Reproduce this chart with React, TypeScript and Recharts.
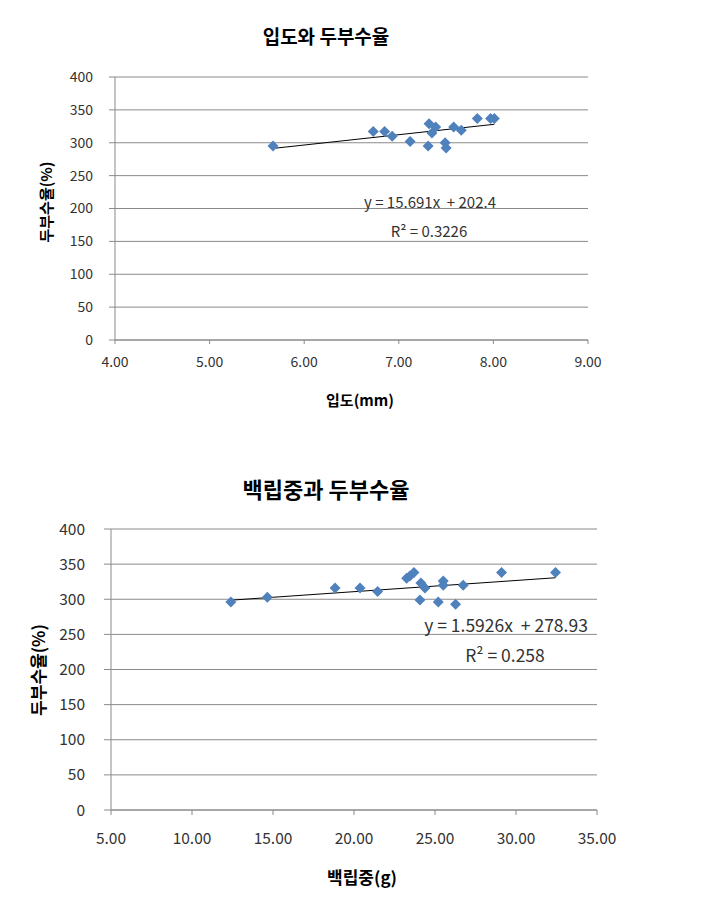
import React from "react";
import {
  ScatterChart,
  Scatter,
  XAxis,
  YAxis,
  CartesianGrid,
  ReferenceLine,
} from "recharts";

// 입도(mm) vs 두부수율(%)
const grainSize = [5.67, 6.73, 6.85, 6.93, 7.12, 7.31, 7.32, 7.35, 7.39, 7.49, 7.5, 7.58, 7.66, 7.83, 7.97, 8.01];
const yield1 = [295, 317, 317, 310, 302, 295, 329, 315, 324, 300, 292, 324, 319, 337, 337, 337];

// 백립중(g) vs 두부수율(%)
const weight100 = [12.4, 14.65, 18.83, 20.37, 21.46, 23.25, 23.45, 23.7, 24.13, 24.38, 24.07, 25.2, 25.51, 25.51, 26.27, 26.74, 29.11, 32.44];
const yield2 = [296, 303, 316, 316, 311, 330, 333, 338, 323, 316, 299, 296, 326, 320, 293, 320, 338, 338];

const trend1 = { slope: 15.691, intercept: 202.4, r2: "0.3226" };
const trend2 = { slope: 1.5926, intercept: 278.93, r2: "0.258" };

const xTicks1 = [4, 5, 6, 7, 8, 9];
const xTicks2 = [5, 10, 15, 20, 25, 30, 35];
const yTicks = [0, 50, 100, 150, 200, 250, 300, 350, 400];

const FONT = "'Noto Sans CJK KR', 'Noto Sans', sans-serif";
const GRID = "#8a8a8a";
const BLUE = "#4F81BD";

function Diamond(props: any) {
  const { cx, cy } = props;
  if (cx == null || cy == null) return null;
  const r = 5.5;
  return (
    <polygon
      points={`${cx},${cy - r} ${cx + r},${cy} ${cx},${cy + r} ${cx - r},${cy}`}
      fill={BLUE}
    />
  );
}

function trendSegment(xs: number[], t: { slope: number; intercept: number }) {
  const lo = Math.min(...xs);
  const hi = Math.max(...xs);
  return [
    { x: lo, y: t.slope * lo + t.intercept },
    { x: hi, y: t.slope * hi + t.intercept },
  ];
}

const text = (style: React.CSSProperties, content: React.ReactNode) => (
  <div style={{ position: "absolute", fontFamily: FONT, whiteSpace: "pre", ...style }}>{content}</div>
);

export default function App() {
  const pts1 = grainSize.map((x, i) => ({ x, y: yield1[i] }));
  const pts2 = weight100.map((x, i) => ({ x, y: yield2[i] }));

  return (
    <div style={{ position: "absolute", left: 0, top: 0, width: 717, height: 911, background: "#fff" }}>
      {/* chart 1 */}
      <div style={{ position: "absolute", left: 0, top: 0 }}>
        <ScatterChart width={717} height={420} margin={{ top: 77, right: 129, left: 55, bottom: 50 }}>
          <CartesianGrid horizontal vertical={false} stroke={GRID} />
          <XAxis
            type="number"
            dataKey="x"
            domain={[4, 9]}
            ticks={xTicks1}
            tickFormatter={(v) => v.toFixed(2)}
            height={30}
            tickSize={4}
            tickMargin={13}
            stroke={GRID}
            tick={{ fill: "#333", fontSize: 14, fontFamily: FONT }}
          />
          <YAxis
            type="number"
            dataKey="y"
            domain={[0, 400]}
            ticks={yTicks}
            width={60}
            tickSize={6}
            tickMargin={16}
            stroke={GRID}
            tick={{ fill: "#333", fontSize: 14, fontFamily: FONT }}
          />
          <Scatter data={pts1} shape={Diamond} isAnimationActive={false} />
          <ReferenceLine segment={trendSegment(grainSize, trend1)} stroke="#000" strokeWidth={1} ifOverflow="visible" />
        </ScatterChart>
      </div>
      {text({ left: 326, top: 35, transform: "translate(-50%,-50%)", fontSize: 19, fontWeight: 700, color: "#000" }, "입도와 두부수율")}
      {text({ left: 360, top: 399, transform: "translate(-50%,-50%)", fontSize: 15, fontWeight: 700, color: "#000" }, "입도(mm)")}
      {text({ left: 45, top: 202, transform: "translate(-50%,-50%) rotate(-90deg)", fontSize: 15, fontWeight: 700, color: "#000" }, "두부수율(%)")}
      {text({ left: 430, top: 201, transform: "translate(-50%,-50%)", fontSize: 15, color: "#333" }, `y = ${trend1.slope}x  + ${trend1.intercept}`)}
      {text({ left: 429, top: 230, transform: "translate(-50%,-50%)", fontSize: 15, color: "#333" }, `R² = ${trend1.r2}`)}

      {/* chart 2 */}
      <div style={{ position: "absolute", left: 0, top: 450 }}>
        <ScatterChart width={717} height={461} margin={{ top: 79, right: 120, left: 51, bottom: 71 }}>
          <CartesianGrid horizontal vertical={false} stroke={GRID} />
          <XAxis
            type="number"
            dataKey="x"
            domain={[5, 35]}
            ticks={xTicks2}
            tickFormatter={(v) => v.toFixed(2)}
            height={30}
            tickSize={5}
            tickMargin={18}
            stroke={GRID}
            tick={{ fill: "#333", fontSize: 15.5, fontFamily: FONT }}
          />
          <YAxis
            type="number"
            dataKey="y"
            domain={[0, 400]}
            ticks={yTicks}
            width={60}
            tickSize={7}
            tickMargin={19}
            stroke={GRID}
            tick={{ fill: "#333", fontSize: 15.5, fontFamily: FONT }}
          />
          <Scatter data={pts2} shape={Diamond} isAnimationActive={false} />
          <ReferenceLine segment={trendSegment(weight100, trend2)} stroke="#000" strokeWidth={1} ifOverflow="visible" />
        </ScatterChart>
      </div>
      {text({ left: 326, top: 488, transform: "translate(-50%,-50%)", fontSize: 22, fontWeight: 700, color: "#000" }, "백립중과 두부수율")}
      {text({ left: 362, top: 876, transform: "translate(-50%,-50%)", fontSize: 17, fontWeight: 700, color: "#000" }, "백립중(g)")}
      {text({ left: 37, top: 670, transform: "translate(-50%,-50%) rotate(-90deg)", fontSize: 17, fontWeight: 700, color: "#000" }, "두부수율(%)")}
      {text({ left: 506, top: 624, transform: "translate(-50%,-50%)", fontSize: 17.5, color: "#333" }, `y = ${trend2.slope}x  + ${trend2.intercept}`)}
      {text({ left: 505, top: 654, transform: "translate(-50%,-50%)", fontSize: 17.5, color: "#333" }, `R² = ${trend2.r2}`)}
    </div>
  );
}
